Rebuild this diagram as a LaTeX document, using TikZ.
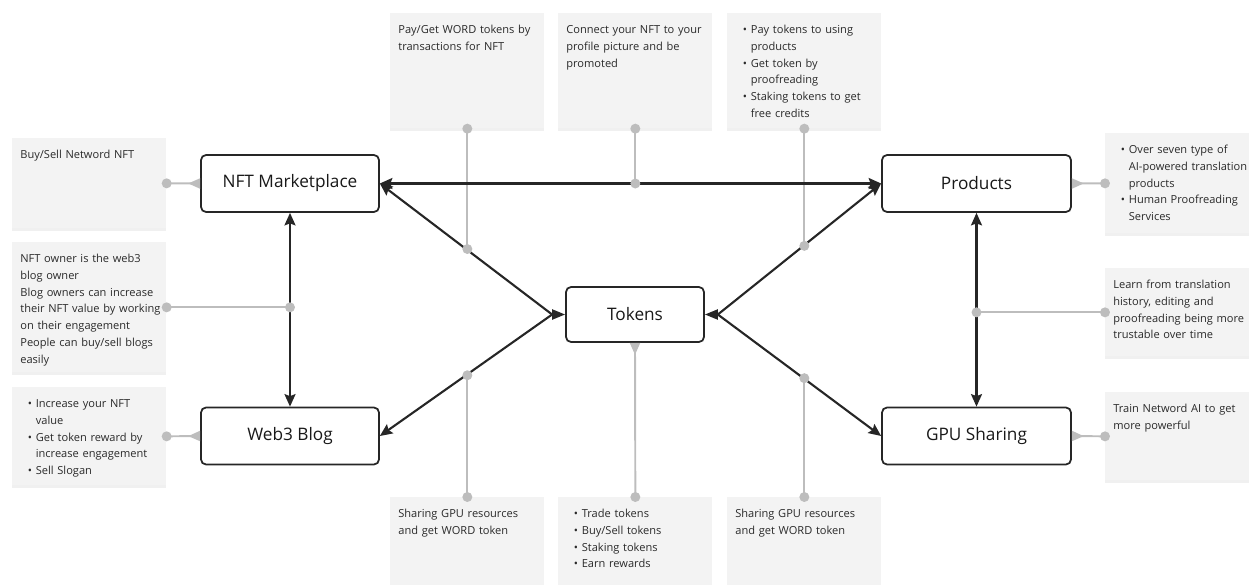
\documentclass[tikz,border=0pt]{standalone}
\usepackage{fontspec}
\setmainfont{Open Sans}
\usetikzlibrary{positioning, arrows.meta, calc, shadows}
\definecolor{notegray}{HTML}{F3F3F3}
\definecolor{linkgray}{HTML}{BDBDBD}
\definecolor{inkgray}{HTML}{2A2A2A}
\tikzset{block/.style={
    rectangle,
    draw=black!85,
    line width=1pt,
    rounded corners=1mm,
    fill=white,
    minimum width=3.56cm,
    minimum height=1.14cm,
    text=black!90,
    font=\fontsize{9.8}{12}\selectfont
}}
\tikzset{note/.style={
    rectangle,
    fill=notegray,
    anchor=north west,
    text width=2.76cm,
    inner xsep=0.16cm,
    inner ysep=0.2cm,
    text height=0.2cm,
    text depth=#1,
    drop shadow={shadow xshift=0pt, shadow yshift=-0.6mm, opacity=0.12},
    text=inkgray,
    font=\fontsize{6.3}{9.6}\selectfont
}}
\newcommand{\notelines}[1]{\begin{tabular}[t]{@{}l@{}}#1\end{tabular}}
\newcommand{\bul}{\hspace*{0.15cm}\makebox[0.16cm][l]{\textbullet}}
\newcommand{\bin}{\hspace*{0.31cm}}

\begin{document}
\begin{tikzpicture}[
    x=0.02cm, y=-0.02cm,
    >={Stealth[length=2.5mm, width=2.2mm, inset=0.4mm]},
    flow/.style={draw=black!85, line width=1.2pt},
    link/.style={draw=linkgray, line width=1.1pt},
    tri/.style={-{Triangle[reversed, length=2.4mm, width=2mm]}}
]
    \useasboundingbox (0,0) rectangle (1249,585);
    % notes
    \node (nbuy) [note=1.2cm] at (12,138) {\notelines{Buy/Sell Netword NFT}};
    \node (nown) [note=2cm] at (12,242) {\notelines{NFT owner is the web3\\blog owner\\Blog owners can increase\\their NFT value by working\\on their engagement\\People can buy/sell blogs\\easily}};
    \node (ninc) [note=1.36cm] at (12,387) {\notelines{\bul Increase your NFT\\\bin value\\\bul Get token reward by\\\bin increase engagement\\\bul Sell Slogan}};
    \node (npay) [note=1.7cm] at (390,13) {\notelines{Pay/Get WORD tokens by\\transactions for NFT}};
    \node (ncon) [note=1.7cm] at (558,13) {\notelines{Connect your NFT to your\\profile picture and be\\promoted}};
    \node (nuse) [note=1.7cm] at (727,13) {\notelines{\bul Pay tokens to using\\\bin products\\\bul Get token by\\\bin proofreading\\\bul Staking tokens to get\\\bin free credits}};
    \node (nover) [note=1.4cm] at (1105,133) {\notelines{\bul Over seven type of\\\bin AI-powered translation\\\bin products\\\bul Human Proofreading\\\bin Services}};
    \node (nlearn) [note=1.16cm] at (1105,268) {\notelines{Learn from translation\\history, editing and\\proofreading being more\\trustable over time}};
    \node (ntrain) [note=1.16cm] at (1105,392) {\notelines{Train Netword AI to get\\more powerful}};
    \node (nshl) [note=1.16cm] at (390,497) {\notelines{Sharing GPU resources\\and get WORD token}};
    \node (ntrade) [note=1.16cm] at (558,497) {\notelines{\bul Trade tokens\\\bul Buy/Sell tokens\\\bul Staking tokens\\\bul Earn rewards}};
    \node (nshr) [note=1.16cm] at (727,497) {\notelines{Sharing GPU resources\\and get WORD token}};

    % main blocks
    \node (nft) [block] at (290,183.5) {NFT Marketplace};
    \node (web) [block] at (290,436) {Web3 Blog};
    \node (tok) [block, minimum width=2.76cm, minimum height=1.1cm] at (635,314.5) {Tokens};
    \node (prod) [block, minimum width=3.78cm] at (976.5,183.5) {Products};
    \node (gpu) [block, minimum width=3.78cm] at (976.5,436) {GPU Sharing};

    \coordinate (tl) at ($(tok.west)+(-13,0)$);
    \coordinate (tr) at ($(tok.east)+(13,0)$);
    \coordinate (p1) at ($(tl)!0.5!(nft.east)$);
    \coordinate (p2) at ($(tl)!0.5!(web.east)$);
    \coordinate (p3) at ($(tr)!0.524!(prod.west)$);
    \coordinate (p4) at ($(tr)!0.524!(gpu.west)$);

    % dot positions
    \coordinate (b1) at (nbuy.east);
    \coordinate (b2) at (nown.east);
    \coordinate (b3) at (nft.south |- nown.east);
    \coordinate (b4) at (ninc.east);
    \coordinate (t1) at (npay.south);
    \coordinate (t2) at (npay.south |- p1);
    \coordinate (t3) at (ncon.south);
    \coordinate (t4) at (ncon.south |- nft.east);
    \coordinate (t5) at (nuse.south);
    \coordinate (t6) at (nuse.south |- p3);
    \coordinate (r1) at (nover.west);
    \coordinate (r2) at (nlearn.west);
    \coordinate (r3) at (prod.south |- nlearn.west);
    \coordinate (r4) at (ntrain.west);
    \coordinate (u1) at (nshl.north);
    \coordinate (u2) at (nshl.north |- p2);
    \coordinate (u3) at (ntrade.north);
    \coordinate (u4) at (nshr.north);
    \coordinate (u5) at (nshr.north |- p4);

    % grey links
    \draw [link, tri] (b1) -- (nft.west);
    \draw [link] (b2) -- (b3);
    \draw [link, tri] (b4) -- (web.west);
    \draw [link] (t1) -- (t2);
    \draw [link] (t3) -- (t4);
    \draw [link] (t5) -- (t6);
    \draw [link, tri] (r1) -- (prod.east);
    \draw [link] (r2) -- (r3);
    \draw [link, tri] (r4) -- (gpu.east);
    \draw [link] (u1) -- (u2);
    \draw [link, tri] (u3) -- (tok.south);
    \draw [link] (u4) -- (u5);

    % black connectors
    \draw [flow, <->] (nft) -- (prod);
    \draw [flow, <->] (nft) -- (web);
    \draw [flow, <->] (prod) -- (gpu);
    \draw [flow, ->] (tl) -- (nft.east);
    \draw [flow, ->] (tl) -- (web.east);
    \draw [flow, ->] (tr) -- (prod.west);
    \draw [flow, ->] (tr) -- (gpu.west);
    \draw [flow, -{Triangle[length=2.6mm, width=2mm]}] (tl) -- (tok.west);
    \draw [flow, -{Triangle[length=2.6mm, width=2mm]}] (tr) -- (tok.east);

    \foreach \d in {b1,b2,b3,b4,t1,t2,t3,t4,t5,t6,r1,r2,r3,r4,u1,u2,u3,u4,u5}
        \fill [linkgray] (\d) circle (1mm);
\end{tikzpicture}
\end{document}
